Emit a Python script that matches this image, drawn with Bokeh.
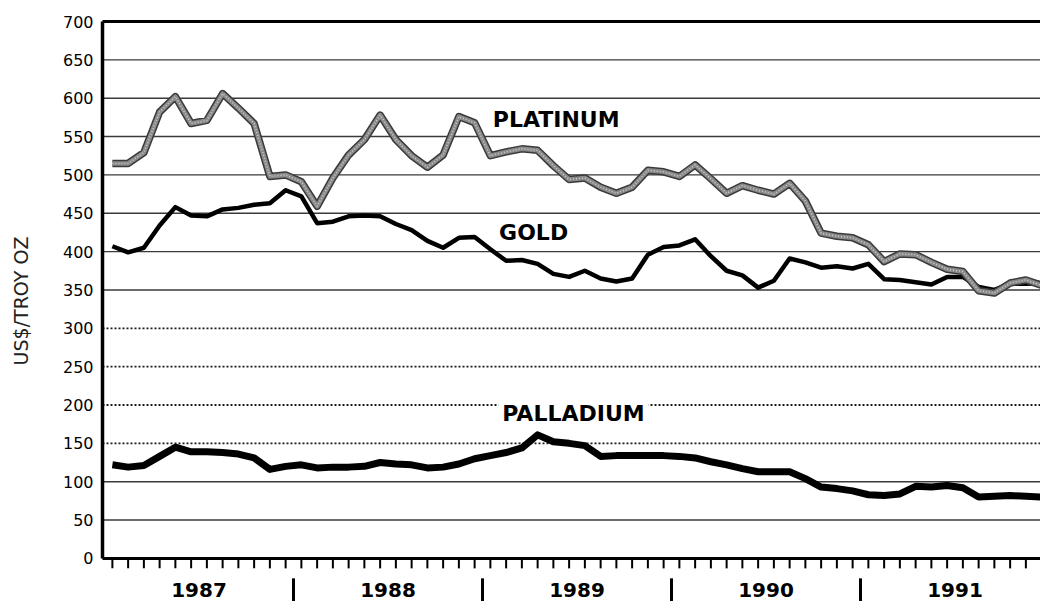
import numpy as np
from bokeh.plotting import figure
from bokeh.models import FixedTicker, Range1d, Label
from bokeh.core.properties import value
from bokeh.embed import file_html
from bokeh.resources import INLINE

# Monthly average prices, Jan 1987 - Dec 1991 (US$ per troy ounce)
years = ["1987", "1988", "1989", "1990", "1991"]
platinum = [515, 515, 529, 582, 602, 567, 571, 606, 587, 567,
            498, 500, 491, 459, 496, 526, 546, 578, 546, 525,
            510, 526, 576, 568, 525, 530, 534, 532, 512, 494,
            496, 484, 476, 484, 506, 504, 498, 513, 495, 476,
            486, 480, 475, 489, 466, 424, 420, 418, 409, 387,
            397, 396, 386, 377, 374, 349, 346, 359, 363, 356]
gold = [407, 399, 405, 434, 458, 447, 446, 455, 457, 461,
        463, 480, 472, 437, 439, 446, 447, 446, 436, 428,
        414, 405, 418, 419, 403, 388, 389, 384, 371, 367,
        375, 365, 361, 365, 396, 406, 408, 416, 394, 375,
        369, 353, 362, 391, 386, 379, 381, 378, 384, 364,
        363, 360, 357, 367, 367, 354, 350, 358, 358, 359]
palladium = [122, 119, 121, 133, 145, 139, 139, 138, 136, 131,
             116, 120, 122, 118, 119, 119, 120, 125, 123, 122,
             118, 119, 123, 130, 134, 138, 144, 161, 152, 150,
             147, 133, 134, 134, 134, 134, 133, 131, 126, 122,
             117, 113, 113, 113, 104, 93, 91, 88, 83, 82,
             84, 94, 93, 95, 92, 80, 81, 82, 81, 80]
y_ticks = list(range(0, 701, 50))
solid_levels = [50, 100, 350, 400, 450, 500, 550, 600, 650]
dotted_levels = [150, 200, 250, 300]

# screen geometry
W, H = 1040, 601
PX_PER_MONTH = 15.75
PX_PER_USD = 0.767
LEFT = 98
x_start = -6 / PX_PER_MONTH
x_end = x_start + (W - LEFT) / PX_PER_MONTH
y_top = 700
y_end = y_top + 21 / PX_PER_USD
y_start = y_end - H / PX_PER_USD
axis_x = -2 / PX_PER_MONTH

months = np.arange(len(gold)) + 0.5          # mid-month positions
year_mid = np.arange(len(years)) * 12 + 6
year_breaks = np.arange(1, len(years)) * 12

p = figure(width=W, height=H,
           x_range=Range1d(x_start, x_end), y_range=Range1d(y_start, y_end),
           output_backend="svg", toolbar_location=None, x_axis_location=None,
           min_border_left=LEFT, min_border_right=0, min_border_top=0,
           min_border_bottom=0)
p.outline_line_color = None
p.grid.visible = False
p.background_fill_color = "white"

# y axis: labels only
ax = p.yaxis[0]
ax.ticker = FixedTicker(ticks=y_ticks)
ax.axis_line_color = None
ax.major_tick_line_color = None
ax.minor_tick_line_color = None
ax.major_tick_out = 0
ax.major_tick_in = 0
ax.major_label_standoff = 5
ax.major_label_text_font = "DejaVu Sans"
ax.major_label_text_font_size = "16px"
ax.major_label_text_color = "black"
ax.axis_label = "US$/TROY OZ"
ax.axis_label_text_font = "DejaVu Sans"
ax.axis_label_text_font_style = "normal"
ax.axis_label_text_font_size = "19px"
ax.axis_label_text_color = "#222222"
ax.axis_label_standoff = 28

# horizontal rules
n_s = len(solid_levels)
p.segment(x0=[axis_x] * n_s, y0=solid_levels, x1=[x_end] * n_s, y1=solid_levels,
          line_color="#3a3a3a", line_width=1.4)
n_d = len(dotted_levels)
p.segment(x0=[axis_x] * n_d, y0=dotted_levels, x1=[x_end] * n_d, y1=dotted_levels,
          line_color="#1a1a1a", line_width=1.8, line_dash="2 2")

# frame: top rule, left axis, bottom axis
p.segment(x0=[axis_x], y0=[y_top], x1=[x_end], y1=[y_top], line_color="black", line_width=3)
p.segment(x0=[axis_x], y0=[0], x1=[axis_x], y1=[y_top], line_color="black", line_width=3.5)
p.segment(x0=[axis_x], y0=[0], x1=[x_end], y1=[0], line_color="black", line_width=3)

# month ticks and year separators
tick_len = 13
p.segment(x0=months, y0=[0] * len(months), x1=months, y1=[-tick_len] * len(months),
          line_color="black", line_width=2)
p.segment(x0=year_breaks, y0=[-26] * len(year_breaks), x1=year_breaks,
          y1=[y_start] * len(year_breaks), line_color="black", line_width=3)
p.text(x=year_mid, y=[-41.5] * len(years), text=years,
       text_font=value("DejaVu Sans"), text_font_style="bold", text_font_size="20px",
       text_align="center", text_baseline="middle", text_color="black")

# series
p.line(months, gold, line_color="black", line_width=4.5, line_join="round")
p.line(months, palladium, line_color="black", line_width=7, line_join="round")
# platinum: halftone-style grey band with dark edges
p.line(months, platinum, line_color="#3a3a3a", line_width=7.5, line_join="round")
p.line(months, platinum, line_color="#8a8a8a", line_width=4.5, line_join="round")
p.line(months, platinum, line_color="#cfcfcf", line_width=1.5, line_join="round", line_dash="1 2")

for txt, lx, ly in [("PLATINUM", 24.4, 572), ("GOLD", 24.8, 425), ("PALLADIUM", 25.0, 189)]:
    p.add_layout(Label(x=lx, y=ly, text=txt, text_font="DejaVu Sans",
                       text_font_style="bold", text_font_size="22px",
                       text_baseline="middle", text_align="left", text_color="black",
                       background_fill_color="white" if txt == "PALLADIUM" else None,
                       padding=4))

open("out.html", "w").write(file_html(p, INLINE))
